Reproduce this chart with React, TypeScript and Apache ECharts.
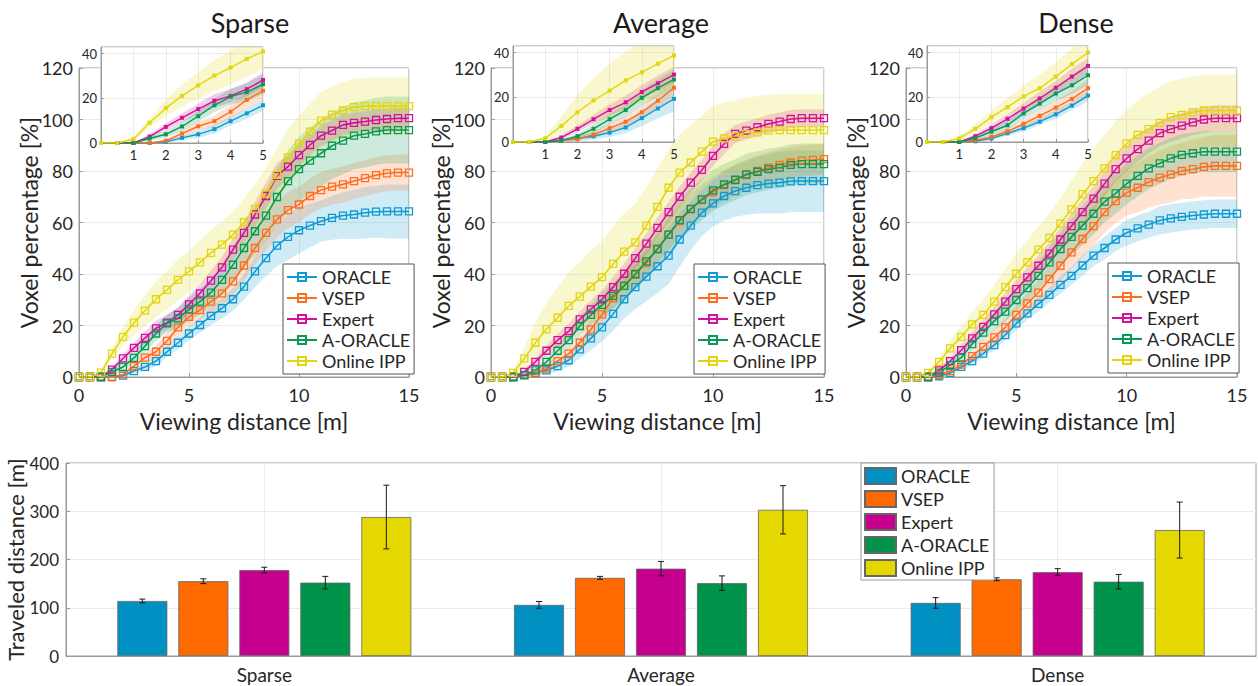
import React, { useEffect, useRef } from 'react';
import * as echarts from 'echarts';

// ---------- data ----------
const DIST = [0, 0.5, 1, 1.5, 2, 2.5, 3, 3.5, 4, 4.5, 5, 5.5, 6, 6.5, 7, 7.5, 8, 8.5, 9, 9.5, 10, 10.5, 11, 11.5, 12, 12.5, 13, 13.5, 14, 14.5, 15];
const INSET_MAX_DIST = 5;
const SERIES_NAMES = ['ORACLE', 'VSEP', 'Expert', 'A-ORACLE', 'Online IPP'];
const PANEL_TITLES = ['Sparse', 'Average', 'Dense'];

// Sparse
const S_ORACLE = [0, 0, 0, 0, 0.5, 2.3, 3.9, 6.2, 9.8, 13.3, 16.9, 20.2, 23.7, 26.7, 30.2, 35.1, 41, 46.2, 51, 54.4, 57, 58.8, 60.5, 61.8, 62.7, 63.1, 63.8, 64.2, 64.3, 64.3, 64.3];
const S_VSEP = [0, 0, 0, 0, 1, 4.2, 7.5, 9.8, 14, 19.3, 23.4, 26, 29.3, 32.5, 37.1, 43.3, 50.1, 56, 61.2, 64.8, 67, 70.3, 72.6, 73.9, 74.8, 76.1, 77.2, 78.4, 79.1, 79.4, 79.4];
const S_EXPERT = [0, 0, 0, 2.9, 7.2, 11.3, 15.2, 18.9, 21.1, 24.1, 28.2, 32.5, 37.4, 42.6, 49.5, 56, 63.1, 70.3, 78.1, 81.7, 86.2, 90.1, 93.7, 95.7, 97.9, 98.7, 99.2, 99.8, 100.2, 100.5, 100.5];
const S_AORACLE = [0, 0, 0, 2, 3.9, 7.4, 12, 16.9, 20.8, 22.8, 26.3, 29.3, 32.8, 37.7, 43.6, 50.1, 56.6, 62.7, 69.9, 76.1, 80.7, 84, 86.9, 89.8, 91.8, 93.7, 94.4, 95.4, 95.9, 95.9, 95.9];
const S_IPP = [0, 0, 1.7, 9.1, 15.6, 21.1, 25.8, 30.2, 33.8, 37.7, 41, 44.5, 48.2, 51.4, 55.3, 60.1, 65.3, 71.2, 78.5, 85.3, 90.5, 95.3, 99.6, 101.9, 103.5, 104.8, 105.2, 105.2, 105.2, 105.2, 105.2];
const S_ORACLE_SD = [0, 0, 0, 0, 0.5, 1, 1.5, 2, 2, 2.5, 2.5, 3, 3.5, 4, 4.5, 5, 6, 7, 8, 9, 9, 8.5, 8, 8.5, 9, 9.5, 10, 10, 10.5, 10.5, 10.5];
const S_VSEP_SD = [0, 0, 0, 0, 0.5, 1.5, 2, 2.5, 3, 3.5, 4, 4, 4.5, 5, 5.5, 6, 6.5, 7, 7, 7, 7, 7, 7, 7, 7, 7, 7, 7, 7, 7, 7];
const S_EXPERT_SD = [0, 0, 0, 1, 1.5, 2, 2.5, 3, 3, 3, 3.5, 3.5, 4, 4, 4.5, 4.5, 5, 5, 5, 4.5, 4.5, 4, 4, 4, 4, 4, 4, 4, 4, 4, 4];
const S_AORACLE_SD = [0, 0, 0, 1, 1.5, 2, 2.5, 3, 3.5, 4, 4.5, 5, 5.5, 6, 7, 8, 9, 10, 11, 12, 12.5, 13, 13, 13, 13, 13, 13, 13, 13, 13, 13];
const S_IPP_SD = [0, 0, 1, 2, 3.5, 5, 6, 7, 7.5, 8, 8, 8.5, 9, 9, 9, 9, 9.5, 10, 10.5, 11, 11, 11, 11, 11, 11, 11, 11, 11, 11, 11, 11];

// Average
const A_ORACLE = [0, 0, 0, 0.7, 1.6, 2.6, 4.2, 6.5, 10.7, 15, 19.3, 24.5, 30.2, 34.9, 39, 43, 47.1, 53.4, 58.8, 63.8, 67.4, 70.3, 72.2, 73.5, 74.5, 75.1, 75.5, 76, 76.1, 76.1, 76.1];
const A_VSEP = [0, 0, 0, 0.7, 1.3, 3.3, 6.2, 9.1, 13.3, 18.5, 24.3, 30.6, 35.4, 39.7, 44.3, 49.7, 55.3, 60.5, 65.1, 68.7, 71.8, 74.5, 76.4, 78.4, 80, 81.3, 82.4, 83.3, 84, 84.3, 84.6];
const A_EXPERT = [0, 0, 0, 2, 5.9, 10.2, 14.3, 17.8, 22.4, 26.3, 30.2, 34.9, 40.1, 46.2, 51.8, 57.9, 64, 70, 75.5, 80.4, 85.9, 90.5, 94.4, 95.7, 97, 98.3, 99.2, 100.2, 100.5, 100.5, 100.5];
const A_AORACLE = [0, 0, 0, 0.7, 2.6, 5.9, 10.2, 14.3, 19.8, 24.1, 28, 31.5, 35.4, 40, 44.9, 49.7, 55.3, 60.9, 65.3, 69, 72.5, 74.8, 76.6, 78.7, 79.7, 80.7, 81.3, 82.4, 82.7, 82.7, 82.7];
const A_IPP = [0, 0, 1.6, 7.2, 13.3, 18.6, 23, 27.6, 31.2, 35.1, 38.8, 43.9, 48.7, 52.3, 58.8, 66.1, 73.5, 79.4, 83.3, 87.5, 91.4, 92.7, 93.5, 94.4, 95, 95.7, 95.9, 95.9, 95.9, 95.9, 95.9];
const A_ORACLE_SD = [0, 0, 0, 0.5, 1, 1.5, 2, 2.5, 3.5, 4.5, 5.5, 6.5, 7.5, 8.5, 9.5, 10.5, 11, 10.5, 9.5, 9, 9, 9.5, 10, 10.5, 11, 11.5, 12, 12, 12, 12, 12];
const A_VSEP_SD = [0, 0, 0, 0.5, 1, 1.5, 2, 2.5, 3, 3.5, 4, 4.5, 5, 5, 5.5, 5.5, 6, 6, 6, 6, 6, 6, 6, 6, 6, 6, 6, 6, 6, 6, 6];
const A_EXPERT_SD = [0, 0, 0, 1, 1.5, 2, 2.5, 3, 3, 3.5, 3.5, 4, 4, 4, 4, 4, 4, 4, 4, 4, 4, 4, 3.5, 3.5, 3.5, 3.5, 3.5, 3.5, 3.5, 3.5, 3.5];
const A_AORACLE_SD = [0, 0, 0, 0.5, 1, 2, 2.5, 3, 3.5, 4, 4.5, 5, 5.5, 6, 6.5, 7, 7.5, 8, 8, 8, 8, 8, 8, 8, 8, 8, 8, 8, 8, 8, 8];
const A_IPP_SD = [0, 0, 1, 4, 8, 10, 12, 13, 13.5, 14, 14, 14.5, 15, 15, 15, 15, 15, 15, 14.5, 14, 14, 14, 14, 14, 14, 14, 14, 14, 14, 14, 14];

// Dense
const D_ORACLE = [0, 0, 0, 0.3, 1.6, 3.9, 6.2, 9.1, 12.4, 16.3, 20.8, 24.7, 28.4, 31.9, 35.8, 39.3, 43.3, 47.1, 50.1, 53.4, 56, 57.7, 59.2, 60.8, 61.6, 62.2, 62.7, 63.1, 63.4, 63.4, 63.4];
const D_VSEP = [0, 0, 0, 0.7, 2.3, 4.8, 8.1, 11.7, 15.4, 19.3, 24.1, 28.6, 32.8, 38, 43.2, 48.4, 53.6, 58.6, 64, 68.3, 71.6, 73.5, 75.7, 77.4, 78.7, 80, 80.7, 81.6, 82, 82, 82];
const D_EXPERT = [0, 0, 0, 2.6, 6.2, 10.4, 15, 19.5, 24.3, 29.3, 34.1, 38.7, 43.2, 47.9, 53.4, 58.6, 64, 69.3, 75.1, 80.7, 84.9, 88.5, 91.8, 94.7, 96.3, 97.6, 98.9, 100, 100.5, 100.5, 100.5];
const D_AORACLE = [0, 0, 0, 1.7, 4.6, 7.5, 12.8, 17.2, 21.7, 25.4, 29.9, 34.5, 39.3, 44.5, 49.7, 54.4, 58.8, 63.4, 68.1, 71.3, 75.1, 78.1, 81, 83, 84.9, 86.3, 86.9, 87.5, 87.5, 87.5, 87.5];
const D_IPP = [0, 0, 1.6, 5.9, 11.1, 15.6, 20.4, 24.1, 29.3, 34.9, 40.1, 44.6, 49.5, 54, 59.6, 65.1, 71, 76.1, 81, 86.2, 90.7, 94, 96.3, 98.7, 100.9, 101.8, 102.8, 103.5, 103.5, 103.5, 103.5];
const D_ORACLE_SD = [0, 0, 0, 0.5, 1, 1, 1.5, 1.5, 2, 2, 2.5, 2.5, 3, 3, 3.5, 3.5, 4, 4, 4.5, 4.5, 5, 5, 5, 5.5, 5.5, 5.5, 5.5, 5.5, 5.5, 5.5, 5.5];
const D_VSEP_SD = [0, 0, 0, 0.5, 1, 1.5, 2, 2.5, 3, 3.5, 4, 4.5, 5, 5.5, 6, 6.5, 7, 7.5, 8, 8.5, 9, 9.5, 10, 10.5, 11, 11, 11.5, 11.5, 12, 12, 12];
const D_EXPERT_SD = [0, 0, 0, 1, 1.5, 2, 2.5, 3, 3, 3.5, 3.5, 4, 4, 4.5, 4.5, 5, 5, 5, 5, 5, 5, 5, 5, 5, 5, 5, 5, 5, 5, 5, 5];
const D_AORACLE_SD = [0, 0, 0, 1, 1.5, 2, 2.5, 3, 3.5, 4, 4.5, 5, 5.5, 6, 6.5, 7, 7.5, 8, 8, 8, 8, 8, 8, 8, 8, 8, 8, 8, 8, 8, 8];
const D_IPP_SD = [0, 0, 1, 2, 3, 4, 5, 6, 6.5, 7, 8, 8.5, 9, 9.5, 10, 11, 12, 12.5, 13, 13, 13, 13.5, 14, 14, 14, 14, 14, 14, 14, 14, 14];

// Bars: traveled distance [m]
const BAR_CATEGORIES = ['Sparse', 'Average', 'Dense'];
const BAR_ORACLE = [114, 106, 110];
const BAR_VSEP = [155, 162, 159];
const BAR_EXPERT = [178, 181, 174];
const BAR_AORACLE = [152, 151, 154];
const BAR_IPP = [288, 303, 261];
const ERR_ORACLE = [4, 7, 11];
const ERR_VSEP = [5, 3, 3];
const ERR_EXPERT = [6, 15, 7];
const ERR_AORACLE = [13, 15, 15];
const ERR_IPP = [66, 50, 58];

// ---------- styling / layout ----------
const FONT = 'Lato, "DejaVu Sans", sans-serif';
const TXT = '#262626';
const AXIS_C = '#9a9a9a';
const GRID_C = '#ebebeb';
const LINE_COLORS = ['#0E9BD2', '#FF6D1F', '#D4109C', '#079A54', '#E3D60B'];
const BAR_COLORS = ['#0090C2', '#FF6A00', '#C5008E', '#00934A', '#E5D800'];
const BAND_OPACITY = 0.2;

const MAIN_GRIDS = [
  { left: 79, top: 68, width: 330, height: 309 },
  { left: 491, top: 68, width: 333, height: 309 },
  { left: 906, top: 68, width: 331, height: 309 },
];
const INSET_GRIDS = [
  { left: 101, top: 47, width: 162, height: 96 },
  { left: 513, top: 46, width: 161, height: 96 },
  { left: 927, top: 46, width: 161, height: 96 },
];
const BAR_GRID = { left: 66, top: 463, width: 1190, height: 193 };
const TITLE_X = [245, 656, 1071];
const LEGEND_POS = [[283, 264], [694, 264], [1108, 263]];

function buildOption() {
  const panels = [
    { means: [S_ORACLE, S_VSEP, S_EXPERT, S_AORACLE, S_IPP], sds: [S_ORACLE_SD, S_VSEP_SD, S_EXPERT_SD, S_AORACLE_SD, S_IPP_SD] },
    { means: [A_ORACLE, A_VSEP, A_EXPERT, A_AORACLE, A_IPP], sds: [A_ORACLE_SD, A_VSEP_SD, A_EXPERT_SD, A_AORACLE_SD, A_IPP_SD] },
    { means: [D_ORACLE, D_VSEP, D_EXPERT, D_AORACLE, D_IPP], sds: [D_ORACLE_SD, D_VSEP_SD, D_EXPERT_SD, D_AORACLE_SD, D_IPP_SD] },
  ];
  const barMeans = [BAR_ORACLE, BAR_VSEP, BAR_EXPERT, BAR_AORACLE, BAR_IPP];
  const barErrs = [ERR_ORACLE, ERR_VSEP, ERR_EXPERT, ERR_AORACLE, ERR_IPP];
  const insetCount = DIST.filter((d) => d <= INSET_MAX_DIST).length;

  const series: any[] = [];
  panels.forEach((panel, p) => {
    SERIES_NAMES.forEach((name, k) => {
      const m = panel.means[k];
      const sd = panel.sds[k];
      const c = LINE_COLORS[k];
      const lo = m.map((v, i) => Math.max(0, v - sd[i]));
      const hi = m.map((v, i) => v + sd[i]);
      const add = (axis: number, n: number, inset: boolean) => {
        const xs = DIST.slice(0, n);
        const z = inset ? 7 : 2;
        series.push({
          type: 'line', name, xAxisIndex: axis, yAxisIndex: axis, z, silent: true,
          data: xs.map((x, i) => [x, m[i]]),
          symbol: 'rect', symbolSize: inset ? 4 : 7, showSymbol: true,
          lineStyle: { color: c, width: inset ? 1.4 : 1.6 },
          itemStyle: inset ? { color: c } : { color: 'rgba(255,255,255,0)', borderColor: c, borderWidth: 1.3 },
        });
        series.push({
          type: 'custom', name: `band-${p}-${k}-${inset ? 'i' : 'm'}`, xAxisIndex: axis, yAxisIndex: axis, z, silent: true,
          clip: true,
          encode: { x: 0, y: [1, 2] },
          data: xs.map((x, i) => [x, lo[i], hi[i]]),
          renderItem: (params: any, api: any) => {
            if (params.dataIndex !== 0) return null;
            const pts: number[][] = [];
            for (let i = 0; i < xs.length; i++) pts.push(api.coord([xs[i], hi[i]]));
            for (let i = xs.length - 1; i >= 0; i--) pts.push(api.coord([xs[i], lo[i]]));
            const cs = params.coordSys;
            return {
              type: 'polygon',
              shape: { points: pts },
              style: { fill: c, opacity: BAND_OPACITY },
              clipPath: { type: 'rect', shape: { x: cs.x, y: cs.y, width: cs.width, height: cs.height } },
            };
          },
        });
      };
      add(p, DIST.length, false);
      add(3 + p, insetCount, true);
    });
  });

  SERIES_NAMES.forEach((name, k) => {
    series.push({
      type: 'bar', name: 'bar:' + name, xAxisIndex: 6, yAxisIndex: 6, z: 2,
      data: barMeans[k], barWidth: 50, barGap: '22%',
      itemStyle: { color: BAR_COLORS[k], borderColor: '#666', borderWidth: 0.8 },
    });
  });
  SERIES_NAMES.forEach((name, k) => {
    series.push({
      type: 'custom', name: 'err:' + name, xAxisIndex: 6, yAxisIndex: 6, z: 5, silent: true,
      encode: { x: 0, y: 1 },
      data: BAR_CATEGORIES.map((_, i) => [i, barMeans[k][i], barErrs[k][i]]),
      renderItem: (params: any, api: any) => {
        const ci = api.value(0);
        const v = api.value(1);
        const e = api.value(2);
        const layout = api.barLayout({ count: 5, barWidth: 50, barGap: '22%' });
        const off = layout[k].offsetCenter;
        const top = api.coord([ci, v + e]);
        const bot = api.coord([ci, v - e]);
        const x = top[0] + off;
        const st = { stroke: '#1a1a1a', lineWidth: 1 };
        return {
          type: 'group',
          children: [
            { type: 'line', shape: { x1: x, y1: top[1], x2: x, y2: bot[1] }, style: st },
            { type: 'line', shape: { x1: x - 3, y1: top[1], x2: x + 3, y2: top[1] }, style: st },
            { type: 'line', shape: { x1: x - 3, y1: bot[1], x2: x + 3, y2: bot[1] }, style: st },
          ],
        };
      },
    });
  });

  const axisLine = { show: true, lineStyle: { color: AXIS_C } };
  const axisTick = { show: true, inside: true, length: 4, lineStyle: { color: AXIS_C } };

  const xAxis: any[] = [
    ...MAIN_GRIDS.map((_, i) => ({
      type: 'value', gridIndex: i, min: 0, max: 15, interval: 5,
      axisLine, axisTick,
      axisLabel: { fontFamily: FONT, fontSize: 18, color: TXT, margin: 9 },
      splitLine: { show: true, lineStyle: { color: GRID_C } },
      name: 'Viewing distance [m]', nameLocation: 'middle', nameGap: 32, nameMoveOverlap: false,
      nameTextStyle: { fontFamily: FONT, fontSize: 23, color: TXT },
    })),
    ...INSET_GRIDS.map((_, i) => ({
      type: 'value', gridIndex: 3 + i, min: 0, max: 5, interval: 1, z: 6,
      axisLine, axisTick: { ...axisTick, length: 3 },
      axisLabel: { fontFamily: FONT, fontSize: 13, color: TXT, margin: 5, showMinLabel: false },
      splitLine: { show: true, lineStyle: { color: GRID_C } },
    })),
    {
      type: 'category', gridIndex: 6, data: BAR_CATEGORIES,
      axisLine, axisTick: { show: false, alignWithLabel: true },
      axisLabel: { fontFamily: FONT, fontSize: 19, color: TXT, margin: 9 },
      splitLine: { show: true, alignWithLabel: true, lineStyle: { color: GRID_C } },
    },
  ];
  const yAxis: any[] = [
    ...MAIN_GRIDS.map((_, i) => ({
      type: 'value', gridIndex: i, min: 0, max: 120, interval: 20,
      axisLine, axisTick,
      axisLabel: { fontFamily: FONT, fontSize: 18, color: TXT, margin: 6 },
      splitLine: { show: true, lineStyle: { color: GRID_C } },
      name: 'Voxel percentage [%]', nameLocation: 'middle', nameGap: 39, nameMoveOverlap: false,
      nameTextStyle: { fontFamily: FONT, fontSize: 23, color: TXT },
    })),
    ...INSET_GRIDS.map((_, i) => ({
      type: 'value', gridIndex: 3 + i, min: 0, max: 43, interval: 20, z: 6,
      axisLine, axisTick: { ...axisTick, length: 3 },
      axisLabel: { fontFamily: FONT, fontSize: 13, color: TXT, margin: 4, showMaxLabel: false },
      splitLine: { show: true, lineStyle: { color: GRID_C } },
    })),
    {
      type: 'value', gridIndex: 6, min: 0, max: 400, interval: 100,
      axisLine, axisTick,
      axisLabel: { fontFamily: FONT, fontSize: 17, color: TXT, margin: 7 },
      splitLine: { show: true, lineStyle: { color: GRID_C } },
      name: 'Traveled distance [m]', nameLocation: 'middle', nameGap: 40, nameMoveOverlap: false,
      nameTextStyle: { fontFamily: FONT, fontSize: 22, color: TXT },
    },
  ];

  const gridCommon = { show: true, borderColor: AXIS_C, borderWidth: 1, containLabel: false, outerBoundsMode: 'none' };

  return {
    animation: false,
    backgroundColor: '#fff',
    title: PANEL_TITLES.map((t, i) => ({
      text: t, left: TITLE_X[i], top: 4, textAlign: 'center',
      textStyle: { fontFamily: FONT, fontSize: 27, fontWeight: 'normal', color: '#1a1a1a' },
    })),
    grid: [
      ...MAIN_GRIDS.map((g) => ({ ...g, ...gridCommon, backgroundColor: 'rgba(0,0,0,0)', z: 0 })),
      ...INSET_GRIDS.map((g) => ({ ...g, ...gridCommon, backgroundColor: '#fff', z: 5 })),
      { ...BAR_GRID, ...gridCommon, backgroundColor: 'rgba(0,0,0,0)' },
    ],
    legend: [
      ...LEGEND_POS.map(([l, t]) => ({
        left: l, top: t, orient: 'vertical', data: SERIES_NAMES, selectedMode: false, z: 8,
        itemWidth: 30, itemHeight: 10, itemGap: 1,
        padding: [3, 4, 3, 3], borderColor: '#555', borderWidth: 1, backgroundColor: '#fff',
        textStyle: { fontFamily: FONT, fontSize: 18, color: TXT, lineHeight: 20 },
      })),
      {
        left: 861, top: 463, orient: 'vertical', data: SERIES_NAMES.map((n) => 'bar:' + n), selectedMode: false, z: 8,
        formatter: (n: string) => n.slice(4), icon: 'rect',
        itemWidth: 31, itemHeight: 16, itemGap: 5,
        padding: [4, 5, 3, 3], borderColor: '#999', borderWidth: 1, backgroundColor: '#fff',
        textStyle: { fontFamily: FONT, fontSize: 18, color: TXT, lineHeight: 16 },
      },
    ],
    xAxis,
    yAxis,
    series,
  };
}

export default function App() {
  const ref = useRef<HTMLDivElement>(null);
  useEffect(() => {
    if (!ref.current) return;
    const chart = echarts.init(ref.current, undefined, { renderer: 'svg' });
    chart.setOption(buildOption() as any);
    return () => chart.dispose();
  }, []);
  return <div ref={ref} style={{ position: 'fixed', left: 0, top: 0, width: 1258, height: 686 }} />;
}
